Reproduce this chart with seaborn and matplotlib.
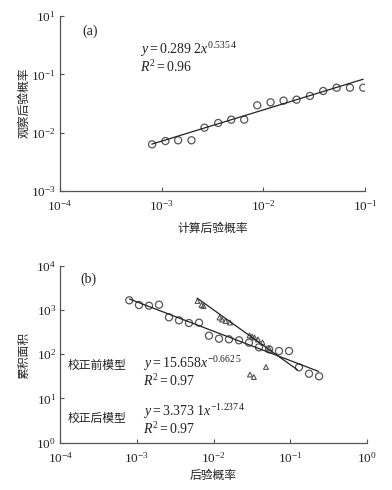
import numpy as np
import pandas as pd
import seaborn as sns
import matplotlib.pyplot as plt

# panel (a): computed vs observed posterior probability
calc_prob = [8.05e-4, 1.089e-3, 1.452e-3, 1.963e-3, 2.636e-3, 3.597e-3, 4.831e-3,
             6.486e-3, 8.71e-3, 1.178e-2, 1.581e-2, 2.123e-2, 2.871e-2, 3.882e-2,
             5.26e-2, 7.11e-2, 9.62e-2]
obs_prob = [6.31e-3, 7.19e-3, 7.40e-3, 7.40e-3, 1.219e-2, 1.466e-2, 1.671e-2,
            1.671e-2, 2.944e-2, 3.311e-2, 3.54e-2, 3.68e-2, 4.26e-2, 5.18e-2,
            5.90e-2, 5.90e-2, 5.90e-2]
fit_a = (0.2892, 0.5354)
fit_a_x = [8.0e-4, 9.6e-2]

# panel (b): posterior probability vs cumulative area
before_prob = [7.96e-4, 1.064e-3, 1.439e-3, 1.945e-3, 2.624e-3, 3.548e-3, 4.786e-3,
               6.471e-3, 8.73e-3, 1.180e-2, 1.592e-2, 2.153e-2, 2.904e-2, 3.926e-2,
               5.31e-2, 7.16e-2, 9.68e-2, 0.1306, 0.1766, 0.2388]
before_area = [1652, 1294, 1247, 1315, 682, 583, 507, 515, 262, 224, 217, 206,
               182, 143, 129, 118, 118, 50.6, 36.2, 31.7]
after_prob = [6.18e-3, 6.97e-3, 7.40e-3, 1.197e-2, 1.291e-2, 1.436e-2, 1.641e-2,
              2.951e-2, 3.184e-2, 3.428e-2, 3.811e-2, 4.365e-2, 5.30e-2, 4.84e-2,
              2.992e-2, 3.365e-2]
after_area = [1592, 1294, 1227, 675, 608, 562, 520, 265, 251, 238, 215, 184,
              135, 51.4, 34.8, 30.5]
fit_before = (15.658, -0.6625)
fit_before_x = [8.0e-4, 0.235]
fit_after = (3.3731, -1.2374)
fit_after_x = [6.1e-3, 0.125]

W, H = 392, 490

sns.set_theme(style="ticks")
plt.rcParams["font.family"] = ["Liberation Serif", "Noto Sans CJK SC"]
plt.rcParams["mathtext.fontset"] = "custom"
plt.rcParams["mathtext.rm"] = "Liberation Serif"
plt.rcParams["mathtext.it"] = "Liberation Serif:italic"

EDGE = "#555555"
INK = "#222222"


def px(x, y):
    return x / W, 1 - y / H


def power_line(coef, xs):
    a, b = coef
    xs = np.asarray(xs)
    return pd.DataFrame({"x": xs, "y": a * xs ** b})


def style_axis(ax, xticks, xlabels, yticks, ylabels):
    ax.set_xscale("log")
    ax.set_yscale("log")
    ax.set_xticks(xticks, xlabels)
    ax.set_yticks(yticks, ylabels)
    ax.minorticks_off()
    ax.tick_params(direction="in", length=3, width=0.8, colors=EDGE,
                   labelcolor=INK, labelsize=9.5)
    ax.tick_params(axis="x", pad=6)
    ax.tick_params(axis="y", pad=3)
    for s in ["left", "bottom"]:
        ax.spines[s].set_color(EDGE)
        ax.spines[s].set_linewidth(0.9)
    sns.despine(ax=ax)
    ax.set_xlabel("")
    ax.set_ylabel("")


def dec(p):
    return r"$\mathregular{10^{%d}}$" % p


fig = plt.figure(figsize=(W / 100, H / 100), dpi=100)

# ---- (a)
ax1 = fig.add_axes([60 / W, 1 - 191 / H, 305 / W, 175 / H])
sns.scatterplot(x=calc_prob, y=obs_prob, ax=ax1, marker="o", s=26,
                facecolors="none", edgecolor=EDGE, linewidth=0.9)
la = power_line(fit_a, fit_a_x)
sns.lineplot(data=la, x="x", y="y", ax=ax1, color=INK, linewidth=0.9)
ax1.set_xlim(1e-4, 1e-1)
ax1.set_ylim(1e-3, 1e0)
style_axis(ax1, [1e-4, 1e-3, 1e-2, 1e-1], [dec(p) for p in (-4, -3, -2, -1)],
           [1e-3, 1e-2, 1e-1, 1e0], [dec(-3), dec(-2), dec(-1), dec(1)])

fig.text(*px(82, 31), "(a)", fontsize=10, va="center", color=INK)
fig.text(*px(140, 50), r"$y\mathregular{=0.289\ 2}x^{\mathregular{0.535\,4}}$",
         fontsize=10, va="center", color=INK)
fig.text(*px(140, 67), r"$R^{\mathregular{2}}\mathregular{=0.96}$",
         fontsize=10, va="center", color=INK)
fig.text(*px(24, 103), "观察后验概率", rotation=90, fontsize=8.5,
         va="center", ha="center", color=INK)
fig.text(*px(213, 229), "计算后验概率", fontsize=8.5, va="center",
         ha="center", color=INK)

# ---- (b)
ax2 = fig.add_axes([60.3 / W, 1 - 442.7 / H, 306.4 / W, 177 / H])
sns.scatterplot(x=before_prob, y=before_area, ax=ax2, marker="o", s=26,
                facecolors="none", edgecolor=EDGE, linewidth=0.9)
sns.scatterplot(x=after_prob, y=after_area, ax=ax2, marker="^", s=12,
                facecolors="none", edgecolor=EDGE, linewidth=0.8)
lb = power_line(fit_before, fit_before_x)
sns.lineplot(data=lb, x="x", y="y", ax=ax2, color=INK, linewidth=0.9)
lc = power_line(fit_after, fit_after_x)
sns.lineplot(data=lc, x="x", y="y", ax=ax2, color=INK, linewidth=0.9)
ax2.set_xlim(1e-4, 1e0)
ax2.set_ylim(1e0, 1e4)
style_axis(ax2, [1e-4, 1e-3, 1e-2, 1e-1, 1e0], [dec(p) for p in (-4, -3, -2, -1, 0)],
           [1e0, 1e1, 1e2, 1e3, 1e4], [dec(p) for p in (0, 1, 2, 3, 4)])

fig.text(*px(80, 279), "(b)", fontsize=10, va="center", color=INK)
fig.text(*px(68, 366), "校正前模型", fontsize=8.5, va="center", color=INK)
fig.text(*px(143, 364), r"$y\mathregular{=15.658}x^{\mathregular{-0.662\,5}}$",
         fontsize=10, va="center", color=INK)
fig.text(*px(143, 381), r"$R^{\mathregular{2}}\mathregular{=0.97}$",
         fontsize=10, va="center", color=INK)
fig.text(*px(68, 419), "校正后模型", fontsize=8.5, va="center", color=INK)
fig.text(*px(143, 412), r"$y\mathregular{=3.373\ 1}x^{\mathregular{-1.237\,4}}$",
         fontsize=10, va="center", color=INK)
fig.text(*px(143, 429), r"$R^{\mathregular{2}}\mathregular{=0.97}$",
         fontsize=10, va="center", color=INK)
fig.text(*px(24, 355), "累积面积", rotation=90, fontsize=8.5,
         va="center", ha="center", color=INK)
fig.text(*px(213, 476), "后验概率", fontsize=8.5, va="center",
         ha="center", color=INK)

fig.savefig("out.png", dpi=100)
